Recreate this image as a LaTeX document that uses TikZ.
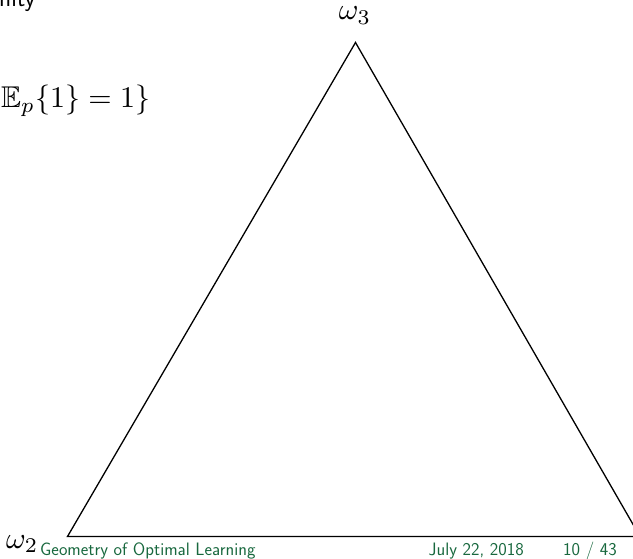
\documentclass[tikz,border=0pt]{standalone}
\usepackage{amssymb}
\usepackage{graphicx}
\definecolor{footgreen}{RGB}{24,104,62}
\tikzset{
  mathlbl/.style={inner sep=0pt, font=\fontsize{10}{12}\selectfont},
  foottxt/.style={inner sep=0pt, text=footgreen, font=\fontsize{18}{22}\selectfont\sffamily},
  edge/.style={line width=1.3pt, line join=miter}
}
\begin{document}
\begin{tikzpicture}[x=1pt,y=-1pt]
\useasboundingbox (0,0) rectangle (633,559);
\clip (0,0) rectangle (633,559);
\coordinate (top) at (355.5,42.5);
\coordinate (bl) at (67.5,536.5);
\coordinate (br) at (640,536.5);
\draw[edge] (top) -- (bl) -- (br) -- cycle;
\node[inner sep=0pt, anchor=base west, font=\fontsize{25}{30}\selectfont\sffamily] (nity) at (-1,7) {nity};
\node[mathlbl, anchor=base west] (cons) at (1,108) {\scalebox{3}{$\mathbb{E}_p\{1\} = 1\}$}};
\node[mathlbl, anchor=base] (w3) at (355,20) {\scalebox{3}{$\omega_3$}};
\node[mathlbl, anchor=base west] (w2) at (6,548) {\scalebox{3}{$\omega_2$}};
\node[foottxt, anchor=base west] (title) at (40,555) {Geometry of Optimal Learning};
\node[foottxt, anchor=base east] (date) at (524,555) {July 22, 2018};
\node[foottxt, anchor=base east] (page) at (617,555) {10 / 43};
\end{tikzpicture}
\end{document}
